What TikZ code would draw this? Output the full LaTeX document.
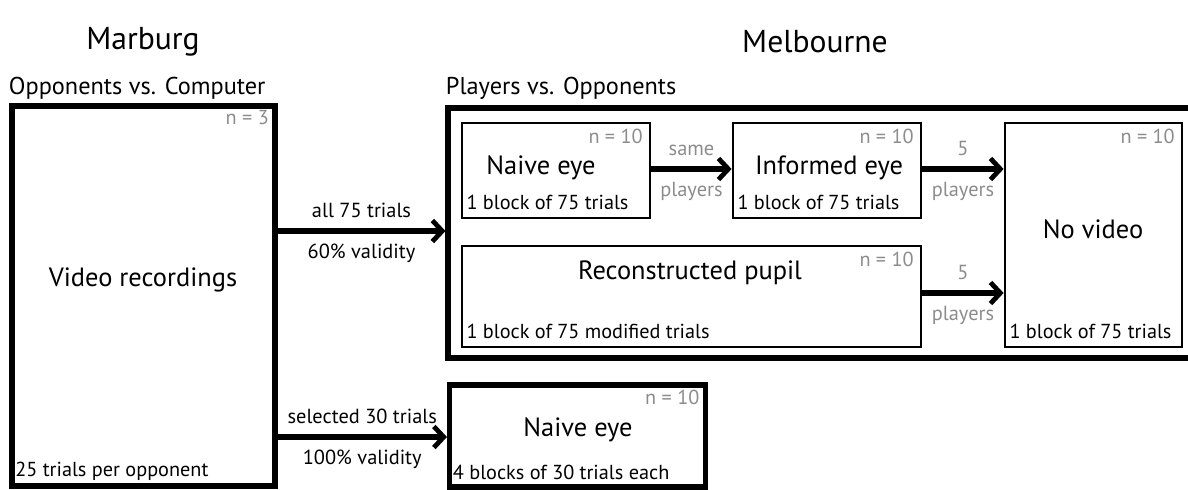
\documentclass[tikz,border=0pt]{standalone}
\usepackage{fontspec}
\setmainfont{PT Sans}
\usetikzlibrary{arrows.meta}

\begin{document}
\begin{tikzpicture}[x=0.025cm,y=-0.025cm,
        group/.style={draw,line width=3.6pt,inner sep=0pt},
        cond/.style={draw,line width=2pt,inner sep=0pt},
        flow/.style={line width=3.6pt,-{Straight Barb[length=7pt,width=15pt,line width=3.4pt]}},
        place/.style={font=\fontsize{22.5}{26}\selectfont},
        head/.style={font=\fontsize{17.3}{20}\selectfont,anchor=west},
        title/.style={font=\fontsize{18.8}{22}\selectfont},
        info/.style={font=\fontsize{14.4}{17}\selectfont,anchor=south west,inner sep=0pt,xshift=4pt,yshift=7pt},
        count/.style={font=\fontsize{14.4}{17}\selectfont,text=black!45,anchor=north east,inner sep=0pt,xshift=-6pt,yshift=-5pt},
        note/.style={font=\fontsize{14.5}{17}\selectfont}]
    \useasboundingbox (0,0) rectangle (1188,489);

    % places
    \node[place] (marburg) at (143,42) {Marburg};
    \node[place] (melbourne) at (815,42) {Melbourne};
    \node[head] (oppcomp) at (4,88) {Opponents vs. Computer};
    \node[head] (playopp) at (441,88) {Players vs. Opponents};

    % Marburg recordings
    \node[group,minimum width=263*0.025cm,minimum height=380*0.025cm] (video) at (143.5,296) {};
    \node[title] at (143,280) {Video recordings};
    \node[count] at (video.north east) {n = 3};
    \node[info,yshift=-1.5pt] at (video.south west) {25 trials per opponent};

    % Melbourne players vs. opponents
    \node[group,minimum width=748*0.025cm,minimum height=250*0.025cm] (players) at (822,233) {};

    \node[cond,minimum width=188*0.025cm,minimum height=95*0.025cm] (naive) at (556,170.5) {};
    \node[title] at (541,168) {Naive eye};
    \node[count] at (naive.north east) {n = 10};
    \node[info] at (naive.south west) {1 block of 75 trials};

    \node[cond,minimum width=188*0.025cm,minimum height=95*0.025cm] (informed) at (827,170.5) {};
    \node[title] at (829,168) {Informed eye};
    \node[count] at (informed.north east) {n = 10};
    \node[info] at (informed.south west) {1 block of 75 trials};

    \node[cond,minimum width=459*0.025cm,minimum height=101*0.025cm] (pupil) at (691.5,296.5) {};
    \node[title] at (690,273) {Reconstructed pupil};
    \node[count] at (pupil.north east) {n = 10};
    \node[info] at (pupil.south west) {1 block of 75 modified trials};

    \node[cond,minimum width=177*0.025cm,minimum height=224*0.025cm] (novideo) at (1093.5,235) {};
    \node[title] at (1093,229) {No video};
    \node[count] at (novideo.north east) {n = 10};
    \node[info] at (novideo.south west) {1 block of 75 trials};

    % Melbourne naive eye, selected trials
    \node[group,minimum width=256*0.025cm,minimum height=102*0.025cm] (naivesel) at (577.5,436) {};
    \node[title] at (578,430) {Naive eye};
    \node[count] at (naivesel.north east) {n = 10};
    \node[info] at (naivesel.south west) {4 blocks of 30 trials each};

    % arrows
    \draw[flow] (video.east |- 0,231) -- (players.west |- 0,231)
        node[note,midway,above=4pt] {all 75 trials}
        node[note,midway,below=4pt] {60\% validity};
    \draw[flow] (video.east |- 0,437) -- (naivesel.west |- 0,437)
        node[note,midway,above=4pt] {selected 30 trials}
        node[note,midway,below=4pt] {100\% validity};
    \draw[flow] (naive.east |- 0,169) -- (informed.west |- 0,169)
        node[note,text=black!45,midway,above=4pt] {same}
        node[note,text=black!45,midway,below=4pt] {players};
    \draw[flow] (informed.east |- 0,169) -- (novideo.west |- 0,169)
        node[note,text=black!45,midway,above=4pt] {5}
        node[note,text=black!45,midway,below=4pt] {players};
    \draw[flow] (pupil.east |- 0,293) -- (novideo.west |- 0,293)
        node[note,text=black!45,midway,above=4pt] {5}
        node[note,text=black!45,midway,below=4pt] {players};
\end{tikzpicture}
\end{document}
